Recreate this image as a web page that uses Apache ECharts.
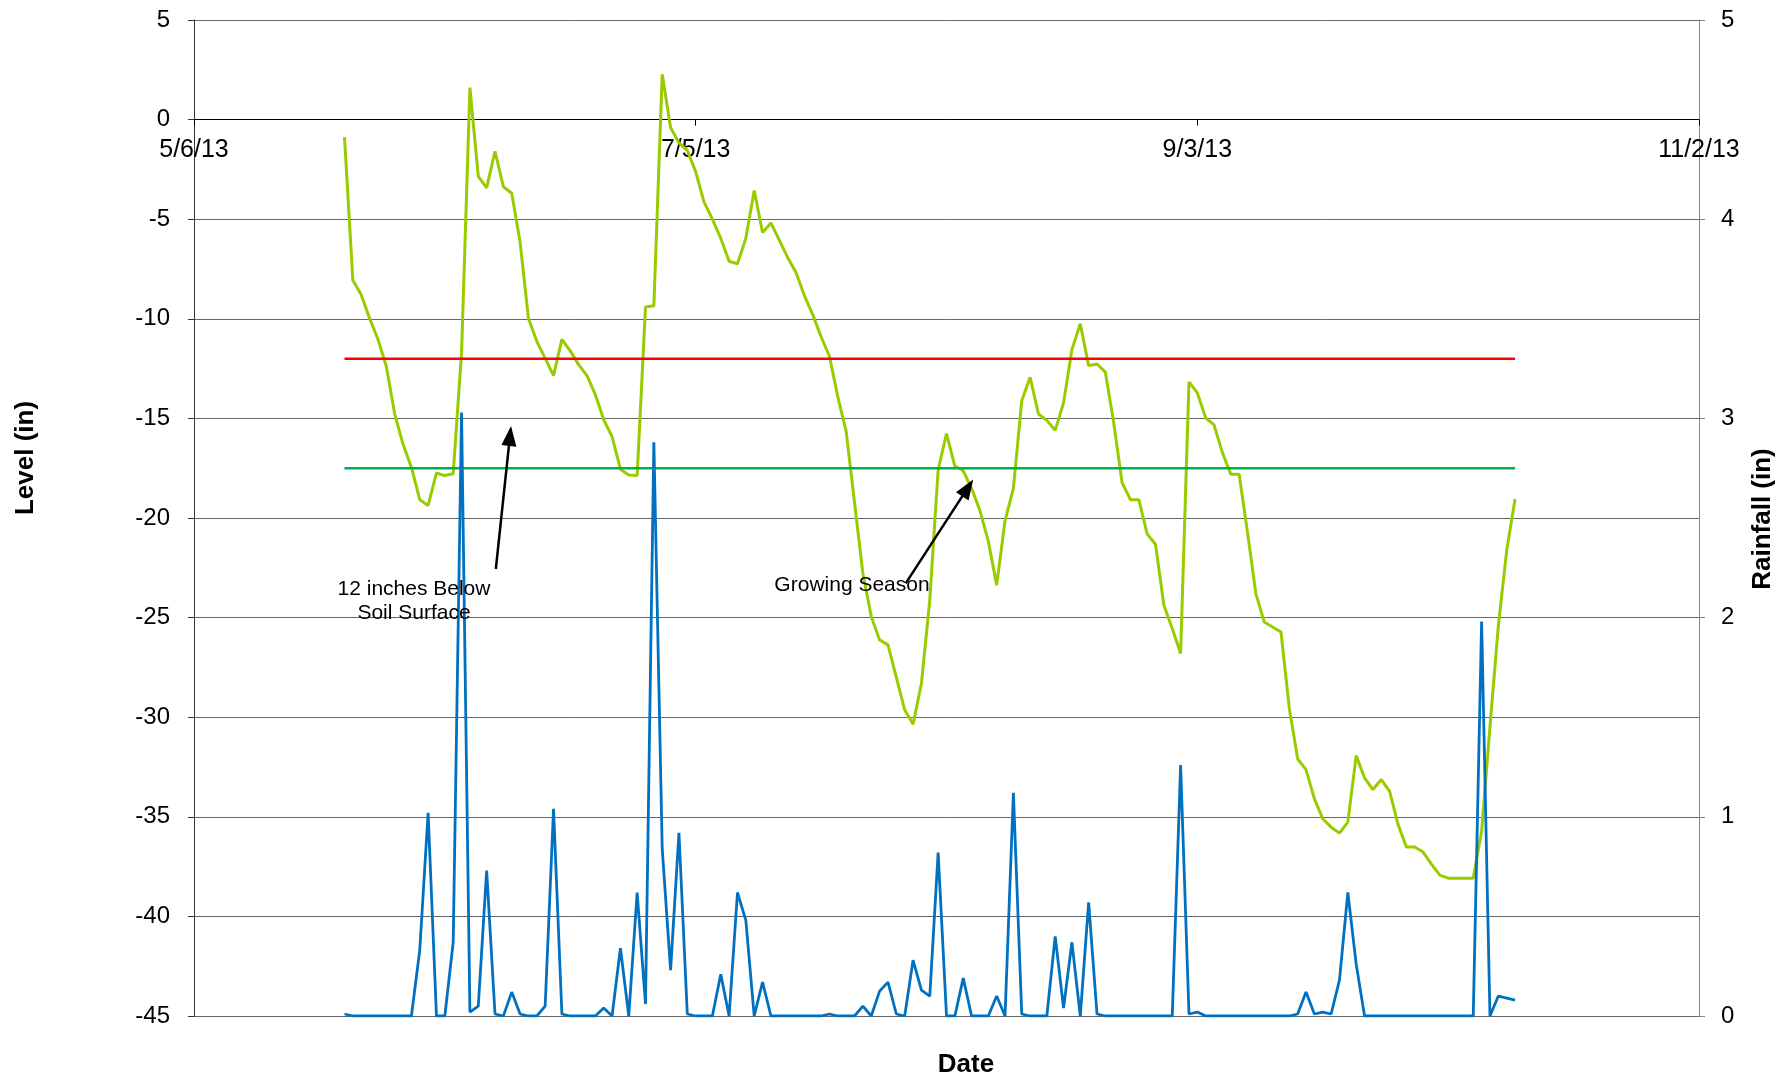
<!DOCTYPE html>
<html>
<head>
<meta charset="utf-8">
<script src="https://cdn.jsdelivr.net/npm/echarts@6/dist/echarts.min.js"></script>
<style>
html,body{margin:0;padding:0;background:#fff;}
#chart{width:1792px;height:1081px;}
</style>
</head>
<body>
<div id="chart"></div>
<script>
// x values are days since 5/6/13; first reading is 5/24/13 (day 18), daily to 10/11/13 (day 158)
const xTickLabels = ['5/6/13', '7/5/13', '9/3/13', '11/2/13'];
const firstDay = 18;

// Water level (in), daily
const levelValues = [
  -0.88, -8.07, -8.79, -9.98, -11.03, -12.38, -14.77, -16.3, -17.45, -19.08,
  -19.37, -17.74, -17.87, -17.78, -11.7, 1.61, -2.85, -3.43, -1.59, -3.37,
  -3.70, -6.15, -9.98, -11.13, -11.99, -12.85, -11.03, -11.61, -12.3, -12.85,
  -13.81, -15.06, -15.92, -17.55, -17.84, -17.87, -9.41, -9.35, 2.28, -0.40,
  -1.17, -1.55, -2.61, -4.14, -5.0, -5.96, -7.11, -7.24, -5.96, -3.56,
  -5.67, -5.19, -6.05, -6.92, -7.68, -8.83, -9.79, -10.9, -11.88, -13.92,
  -15.65, -19.22, -22.8, -24.94, -26.12, -26.37, -28.0, -29.63, -30.35, -28.31,
  -24.12, -17.59, -15.76, -17.39, -17.63, -18.51, -19.63, -21.16, -23.37, -20.14,
  -18.51, -14.12, -12.94, -14.78, -15.1, -15.6, -14.22, -11.55, -10.25, -12.35,
  -12.27, -12.68, -15.22, -18.22, -19.08, -19.08, -20.8, -21.33, -24.38, -25.55,
  -26.8, -13.17, -13.72, -14.97, -15.33, -16.72, -17.8, -17.8, -20.72, -23.8,
  -25.22, -25.47, -25.72, -29.55, -32.1, -32.63, -34.1, -35.1, -35.52, -35.82,
  -35.27, -31.93, -33.05, -33.63, -33.13, -33.72, -35.38, -36.52, -36.52, -36.77,
  -37.38, -37.93, -38.08, -38.08, -38.08, -38.08, -35.72, -30.47, -25.42, -21.63,
  -19.05
];

// Rainfall (in), daily
const rainValues = [
  0.01, 0, 0, 0, 0, 0, 0, 0, 0, 0.33,
  1.02, 0, 0, 0.37, 3.03, 0.02, 0.05, 0.73, 0.01, 0,
  0.12, 0.01, 0, 0, 0.05, 1.04, 0.01, 0, 0, 0,
  0, 0.04, 0, 0.34, 0, 0.62, 0.06, 2.88, 0.84, 0.23,
  0.92, 0.01, 0, 0, 0, 0.21, 0, 0.62, 0.48, 0,
  0.17, 0, 0, 0, 0, 0, 0, 0, 0.01, 0,
  0, 0, 0.05, 0, 0.125, 0.17, 0.01, 0, 0.28, 0.13,
  0.10, 0.82, 0, 0, 0.19, 0, 0, 0, 0.10, 0,
  1.12, 0.01, 0, 0, 0, 0.40, 0.04, 0.37, 0, 0.57,
  0.01, 0, 0, 0, 0, 0, 0, 0, 0, 0,
  1.26, 0.01, 0.02, 0, 0, 0, 0, 0, 0, 0,
  0, 0, 0, 0, 0.01, 0.12, 0.01, 0.02, 0.01, 0.18,
  0.62, 0.26, 0, 0, 0, 0, 0, 0, 0, 0,
  0, 0, 0, 0, 0, 0, 1.98, 0, 0.10, 0.09,
  0.08
];

// Reference levels (in)
const soil12Level = -12;
const growingSeasonLevel = -17.5;

// Annotation arrows: [tailDay, tailLevel, headDay, headLevel]
const arrow12in = [36.1, -22.56, 37.79, -15.88];
const arrowGrowing = [85.12, -23.28, 92.54, -18.49];

const lastDay = firstDay + levelValues.length - 1;
const levelData = levelValues.map((v, i) => [firstDay + i, v]);
const rainData = rainValues.map((v, i) => [firstDay + i, v]);

const FONT = 'Liberation Sans, Arial, sans-serif';
const LEVEL_MIN = -45, LEVEL_MAX = 5;
const GRID = {left: 194, right: 93, top: 20, bottom: 65};
const gridHeight = 1081 - GRID.top - GRID.bottom;
// move the date axis up to the level-0 line
const xAxisOffset = -gridHeight * (0 - LEVEL_MIN) / (LEVEL_MAX - LEVEL_MIN);

const chart = echarts.init(document.getElementById('chart'), null, {renderer: 'canvas'});

function arrowLine(a) {
  return [
    {coord: [a[0], a[1]], symbol: 'none'},
    {coord: [a[2], a[3]], symbol: 'triangle', symbolSize: [15, 20]}
  ];
}

chart.setOption({
  animation: false,
  backgroundColor: '#ffffff',
  grid: GRID,
  xAxis: {
    type: 'value', min: 0, max: 180, interval: 60,
    position: 'bottom', offset: xAxisOffset,
    axisLine: {show: true, onZero: false, lineStyle: {color: '#000', width: 1}},
    axisTick: {show: true, length: 6, lineStyle: {color: '#000'}},
    axisLabel: {
      show: true, color: '#000', fontFamily: FONT, fontSize: 25, margin: 18,
      showMinLabel: true, showMaxLabel: true,
      formatter: v => xTickLabels[Math.round(v / 60)]
    },
    splitLine: {show: false}
  },
  yAxis: [
    {
      type: 'value', min: LEVEL_MIN, max: LEVEL_MAX, interval: 5, position: 'left',
      axisLine: {show: true, onZero: false, lineStyle: {color: '#333', width: 1}},
      axisTick: {show: true, length: 6, lineStyle: {color: '#333'}},
      axisLabel: {color: '#000', fontFamily: FONT, fontSize: 24, margin: 24},
      splitLine: {show: true, lineStyle: {color: '#666', width: 1}}
    },
    {
      type: 'value', min: 0, max: 5, interval: 1, position: 'right',
      axisLine: {show: true, onZero: false, lineStyle: {color: '#868686', width: 1}},
      axisTick: {show: true, length: 6, lineStyle: {color: '#868686'}},
      axisLabel: {color: '#000', fontFamily: FONT, fontSize: 24, margin: 22},
      splitLine: {show: false}
    }
  ],
  series: [
    {
      name: 'Level', type: 'line', yAxisIndex: 0, data: levelData,
      showSymbol: false, symbol: 'none',
      lineStyle: {color: '#99CC00', width: 3}, z: 3
    },
    {
      name: '12 inches', type: 'line', yAxisIndex: 0,
      data: [[firstDay, soil12Level], [lastDay, soil12Level]],
      showSymbol: false, symbol: 'none', silent: true,
      lineStyle: {color: '#FF0000', width: 2.5}, z: 3,
      markLine: {
        silent: true, animation: false,
        label: {show: false},
        lineStyle: {color: '#000', width: 2.5, type: 'solid'},
        data: [arrowLine(arrow12in), arrowLine(arrowGrowing)]
      }
    },
    {
      name: 'Growing Season', type: 'line', yAxisIndex: 0,
      data: [[firstDay, growingSeasonLevel], [lastDay, growingSeasonLevel]],
      showSymbol: false, symbol: 'none', silent: true,
      lineStyle: {color: '#00B050', width: 2.5}, z: 3
    },
    {
      name: 'Rainfall', type: 'line', yAxisIndex: 1, data: rainData,
      showSymbol: false, symbol: 'none',
      lineStyle: {color: '#0070C0', width: 2.8}, z: 4
    }
  ],
  graphic: [
    {type: 'text', x: 26, y: 458, rotation: Math.PI / 2,
      style: {text: 'Level (in)', font: 'bold 26px ' + FONT, fill: '#000', align: 'center', verticalAlign: 'middle'}},
    {type: 'text', x: 1763, y: 519, rotation: Math.PI / 2,
      style: {text: 'Rainfall (in)', font: 'bold 26px ' + FONT, fill: '#000', align: 'center', verticalAlign: 'middle'}},
    {type: 'text', x: 966, y: 1065,
      style: {text: 'Date', font: 'bold 26px ' + FONT, fill: '#000', align: 'center', verticalAlign: 'middle'}},
    {type: 'text', x: 414, y: 601, z: 10,
      style: {text: '12 inches Below\nSoil Surface', font: '21px ' + FONT, lineHeight: 24, fill: '#000', align: 'center', verticalAlign: 'middle'}},
    {type: 'text', x: 852, y: 585, z: 10,
      style: {text: 'Growing Season', font: '21px ' + FONT, fill: '#000', align: 'center', verticalAlign: 'middle'}}
  ]
});
</script>
</body>
</html>
